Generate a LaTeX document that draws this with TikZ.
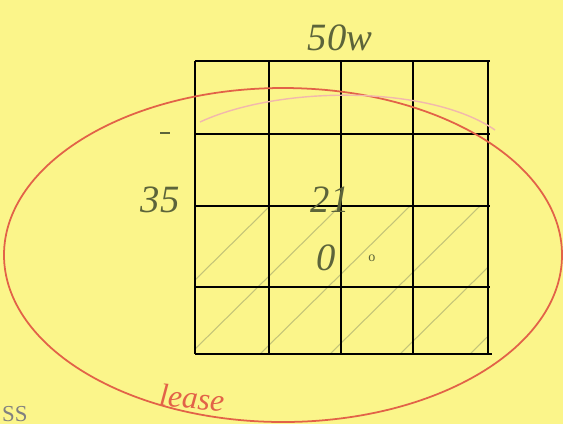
\documentclass[tikz,border=0pt]{standalone}
\usepackage{fontspec}
\setmainfont{Liberation Serif}
\usetikzlibrary{positioning}
\definecolor{paper}{RGB}{251,245,138}
\definecolor{redink}{RGB}{226,98,72}
\definecolor{pencil}{RGB}{92,100,58}
\definecolor{hatch}{RGB}{196,196,120}

\begin{document}
\begin{tikzpicture}[x=0.02cm,y=-0.02cm,
  gridline/.style={draw=black,line width=1.4pt},
  hand/.style={text=pencil,font=\itshape\fontsize{22}{22}\selectfont},
  lease/.style={text=redink,font=\itshape\fontsize{18}{18}\selectfont}]
  \fill[paper] (0,0) rectangle (563,424);
  \useasboundingbox (0,0) rectangle (563,424);
  % hatching of the lower half
  \begin{scope}
    \clip (195,206) rectangle (488,354);
    \foreach \s in {0,70,...,560}
      \draw[hatch,line width=0.6pt] (\s+120,354) -- (\s+270,206);
  \end{scope}
  % grid
  \foreach \gx in {195,269,341,413,488}
    \draw[gridline] (\gx,61) -- (\gx,354);
  \foreach \gy in {61,134,206,287}
    \draw[gridline] (195,\gy) -- (490,\gy);
  \draw[gridline] (195,354) -- (492,354);
  \draw[pencil,line width=0.8pt] (160,133) -- (170,133);
  % lease boundary
  \draw[redink,line width=1pt] (283,255) ellipse [x radius=279,y radius=167];
  \draw[redink!45,line width=0.8pt] (200,122) .. controls (280,85) and (430,85) .. (495,130);
  % labels
  \node[hand] (w) at (340,38) {50w};
  \node[hand] (n) at (160,200) {35};
  \node[hand] (c) at (330,200) {21};
  \node[hand] (z) at (326,258) {0};
  \node[hand,font=\fontsize{8}{8}\selectfont] (d) at (372,258) {o};
  \node[lease,rotate=-5] (l) at (192,398) {lease};
  \node[text=gray,font=\fontsize{13}{13}\selectfont,anchor=south west,inner sep=1pt] (s) at (0,424) {SS};
\end{tikzpicture}
\end{document}
